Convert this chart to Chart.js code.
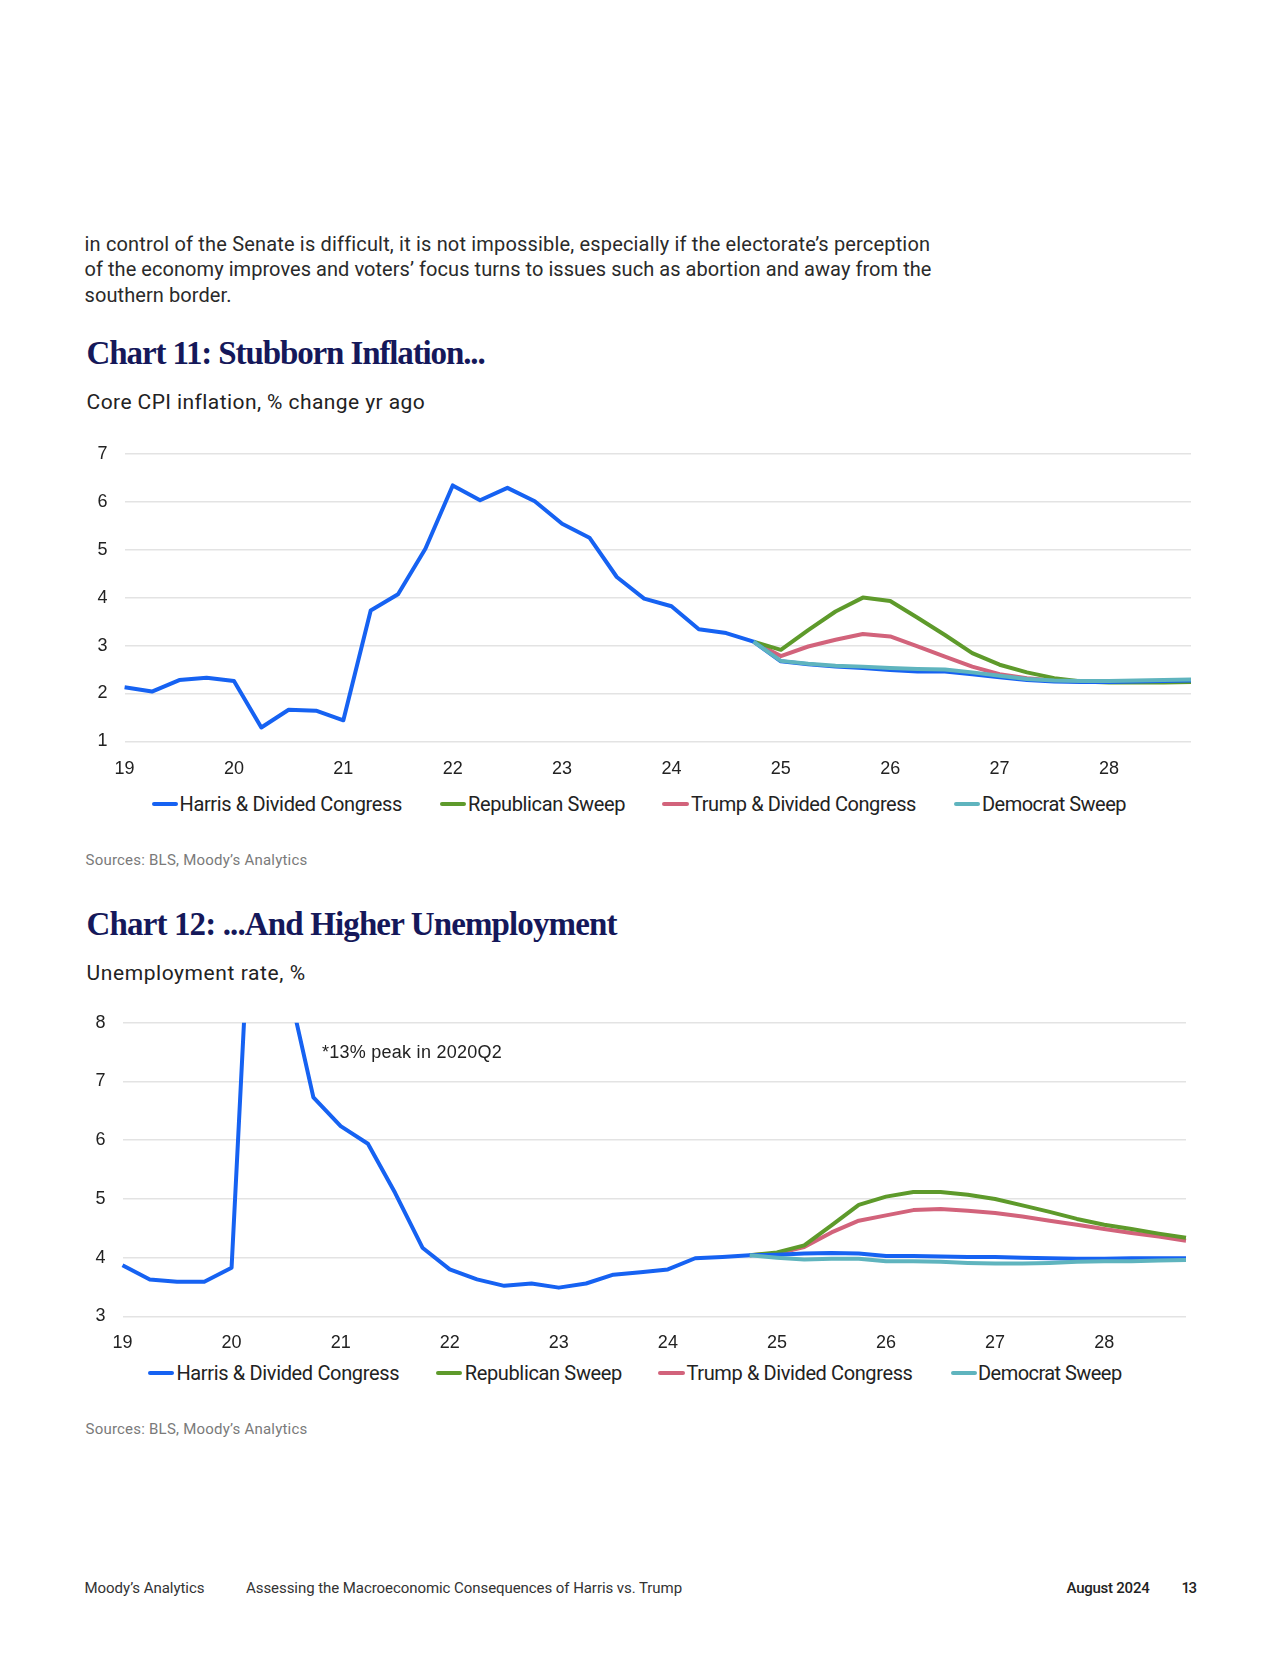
<!DOCTYPE html>
<html>
<head>
<meta charset="utf-8">
<script src="https://cdn.jsdelivr.net/npm/chart.js@4.4.1/dist/chart.umd.min.js"></script>
<style>
  html, body { margin: 0; padding: 0; background: #fff; }
  body { width: 1280px; height: 1656px; position: relative; overflow: hidden; }
  .t { position: absolute; white-space: nowrap; display: inline-block; }
  .para { font-family: Roboto, "Liberation Sans", sans-serif; font-size: 20px; color: #2a2a2a; line-height: 24px; }
  .title { font-family: "Liberation Serif", "DejaVu Serif", serif; font-weight: bold; font-size: 33px; color: #15185a; line-height: 40px; }
  .sub { font-family: Roboto, "Liberation Sans", sans-serif; font-size: 21px; color: #222; line-height: 25px; }
  .leg { font-family: Roboto, "Liberation Sans", sans-serif; font-size: 20px; color: #222; line-height: 24px; }
  .src { font-family: Roboto, "Liberation Sans", sans-serif; font-size: 15px; color: #7a7a7a; line-height: 18px; }
  .foot { font-family: Roboto, "Liberation Sans", sans-serif; font-size: 15px; color: #333; line-height: 18px; }
  .ann { font-family: "Liberation Sans", Arial, sans-serif; font-size: 18px; color: #222; line-height: 21px; }
  .sw { position: absolute; height: 4px; border-radius: 2px; }
  .cbox { position: absolute; }
  .cbox canvas { display: block; }
</style>
</head>
<body>
<script>
// ---------------- DATA ----------------
const quarters = [];
for (let y = 2019; y <= 2028; y++) for (let q = 1; q <= 4; q++) quarters.push(y + "Q" + q);
const yearTickLabels = ["19","20","21","22","23","24","25","26","27","28"];
const seriesNames = ["Harris & Divided Congress", "Republican Sweep", "Trump & Divided Congress", "Democrat Sweep"];

// Chart 11: Core CPI inflation, % change yr ago
const cpiHarris = [2.13,2.04,2.28,2.33,2.26,1.29,1.66,1.64,1.44,3.73,4.07,5.02,6.34,6.03,6.29,6.01,5.54,5.25,4.43,3.98,3.82,3.34,3.26,3.08,
                   2.67,2.61,2.56,2.53,2.49,2.46,2.46,2.40,2.34,2.28,2.25,2.24,2.24,2.25,2.26,2.27];
const cpiRepublican = [null,null,null,null,null,null,null,null,null,null,null,null,null,null,null,null,null,null,null,null,null,null,null,3.08,
                   2.91,3.32,3.71,4.00,3.93,3.58,3.22,2.84,2.60,2.44,2.32,2.25,2.23,2.23,2.23,2.24];
const cpiTrump = [null,null,null,null,null,null,null,null,null,null,null,null,null,null,null,null,null,null,null,null,null,null,null,3.08,
                   2.78,2.98,3.12,3.24,3.19,2.98,2.77,2.56,2.40,2.32,2.27,2.25,2.24,2.24,2.25,2.26];
const cpiDemocrat = [null,null,null,null,null,null,null,null,null,null,null,null,null,null,null,null,null,null,null,null,null,null,null,3.08,
                   2.68,2.62,2.58,2.56,2.53,2.51,2.50,2.44,2.37,2.30,2.27,2.26,2.26,2.27,2.28,2.29];
const cpiTicks = [1,2,3,4,5,6,7];

// Chart 12: Unemployment rate, %
const unempHarris = [3.87,3.63,3.59,3.59,3.83,13.0,8.8,6.73,6.24,5.94,5.10,4.17,3.80,3.63,3.52,3.56,3.49,3.56,3.71,3.75,3.80,3.99,4.01,4.04,
                     4.05,4.07,4.08,4.07,4.03,4.03,4.02,4.01,4.01,4.00,3.99,3.98,3.98,3.99,3.99,3.99];
const unempRepublican = [null,null,null,null,null,null,null,null,null,null,null,null,null,null,null,null,null,null,null,null,null,null,null,4.04,
                     4.09,4.21,4.55,4.90,5.04,5.12,5.12,5.07,5.00,4.89,4.78,4.66,4.56,4.49,4.41,4.34];
const unempTrump = [null,null,null,null,null,null,null,null,null,null,null,null,null,null,null,null,null,null,null,null,null,null,null,4.04,
                     4.07,4.18,4.43,4.63,4.72,4.81,4.83,4.80,4.76,4.70,4.63,4.56,4.49,4.42,4.36,4.29];
const unempDemocrat = [null,null,null,null,null,null,null,null,null,null,null,null,null,null,null,null,null,null,null,null,null,null,null,4.04,
                     4.00,3.97,3.98,3.98,3.94,3.94,3.93,3.91,3.90,3.90,3.91,3.93,3.94,3.94,3.95,3.96];
const unempTicks = [3,4,5,6,7,8];

const colors = ["#1662f2", "#5e9a2b", "#d2637b", "#5fb4be"];
</script>

<div class="t para" data-w="844" style="left:84.5px; top:232px;">in control of the Senate is difficult, it is not impossible, especially if the electorate’s perception</div>
<div class="t para" data-w="847" style="left:84.5px; top:257px;">of the economy improves and voters’ focus turns to issues such as abortion and away from the</div>
<div class="t para" data-w="147" style="left:84.5px; top:283px;">southern border.</div>

<div class="t title" data-w="398" style="left:86.6px; top:332.5px;">Chart 11: Stubborn Inflation...</div>
<div class="t sub" data-w="338" style="left:86.6px; top:390px;">Core CPI inflation, % change yr ago</div>

<div class="cbox" style="left:60px; top:426px; width:1148px; height:359px;"><canvas id="c1" width="1148" height="359"></canvas></div>

<div id="leg1"></div>
<div class="t src" data-w="222" style="left:85.5px; top:851px;">Sources: BLS, Moody’s Analytics</div>

<div class="t title" data-w="530" style="left:86.6px; top:903.5px;">Chart 12: ...And Higher Unemployment</div>
<div class="t sub" data-w="219" style="left:86.6px; top:961px;">Unemployment rate, %</div>

<div class="cbox" style="left:60px; top:995.3px; width:1142px; height:365px;"><canvas id="c2" width="1142" height="365"></canvas></div>
<div class="t ann" data-w="180" style="left:322px; top:1041.5px;">*13% peak in 2020Q2</div>

<div id="leg2"></div>
<div class="t src" data-w="222" style="left:85.5px; top:1420px;">Sources: BLS, Moody’s Analytics</div>

<div class="t foot" data-w="120" style="left:84.5px; top:1578.5px;">Moody’s Analytics</div>
<div class="t foot" data-w="436" style="left:246px; top:1578.5px;">Assessing the Macroeconomic Consequences of Harris vs. Trump</div>
<div class="t foot" data-w="83" style="left:1066.5px; top:1578.5px; font-weight:500; color:#222;">August 2024</div>
<div class="t foot" data-w="14" style="left:1181.5px; top:1578.5px; font-weight:500; color:#222;">13</div>

<script>
function buildLegend(id, items, cy) {
  const host = document.getElementById(id);
  items.forEach((it, i) => {
    const sw = document.createElement('div');
    sw.className = 'sw';
    sw.style.left = it.lx + 'px';
    sw.style.width = (it.lw) + 'px';
    sw.style.top = (cy - 2) + 'px';
    sw.style.background = colors[i];
    host.appendChild(sw);
    const tx = document.createElement('div');
    tx.className = 't leg';
    tx.textContent = seriesNames[i];
    tx.dataset.w = it.tw;
    tx.style.left = it.tx + 'px';
    tx.style.top = (cy - 12) + 'px';
    host.appendChild(tx);
  });
}
buildLegend('leg1', [
  {lx:152, lw:26, tx:179.5, tw:222.5},
  {lx:440, lw:26, tx:468, tw:157},
  {lx:662, lw:27, tx:691, tw:225},
  {lx:954, lw:26, tx:982, tw:144}
], 804);
buildLegend('leg2', [
  {lx:148, lw:26, tx:176.4, tw:222.8},
  {lx:436, lw:26, tx:464.7, tw:157.3},
  {lx:658, lw:27, tx:686.5, tw:226},
  {lx:950.5, lw:26, tx:978, tw:143.6}
], 1373);

// fit text widths to the reference
document.querySelectorAll('[data-w]').forEach(el => {
  const target = parseFloat(el.dataset.w);
  const w = el.getBoundingClientRect().width;
  const n = el.textContent.length;
  if (n > 1) el.style.letterSpacing = ((target - w) / n) + 'px';
});

function makeChart(id, series, yMin, yMax, yTicks, yAxisW, xPad) {
  const orders = [1, 2, 3, 0];
  return new Chart(document.getElementById(id), {
    type: 'line',
    data: {
      labels: quarters,
      datasets: series.map((s, i) => ({
        label: seriesNames[i],
        data: s,
        borderColor: colors[i],
        backgroundColor: colors[i],
        borderWidth: 4,
        pointRadius: 0,
        pointHoverRadius: 0,
        tension: 0,
        fill: false,
        borderJoinStyle: 'round',
        borderCapStyle: 'butt',
        order: orders[i]
      }))
    },
    options: {
      responsive: false,
      devicePixelRatio: 1,
      animation: false,
      events: [],
      layout: { padding: 0 },
      plugins: { legend: { display: false }, tooltip: { enabled: false } },
      scales: {
        x: {
          type: 'category',
          offset: false,
          grid: { display: false, drawTicks: false },
          border: { display: false },
          ticks: {
            autoSkip: false,
            maxRotation: 0,
            minRotation: 0,
            padding: xPad,
            color: '#222',
            font: { family: '"Liberation Sans", Arial, sans-serif', size: 18 },
            callback: (v, i) => (i % 4 === 0 ? yearTickLabels[i / 4] : '')
          },
          afterFit: (s) => { s.height = 43.6; }
        },
        y: {
          min: yMin,
          max: yMax,
          afterBuildTicks: (s) => { s.ticks = yTicks.map(v => ({ value: v })); },
          grid: { color: '#e3e3e3', lineWidth: 1.5, drawTicks: false },
          border: { display: false },
          ticks: {
            padding: 17,
            color: '#222',
            font: { family: '"Liberation Sans", Arial, sans-serif', size: 18 }
          },
          afterFit: (s) => { s.width = yAxisW; }
        }
      }
    }
  });
}

makeChart('c1', [cpiHarris, cpiRepublican, cpiTrump, cpiDemocrat], 1, 7, cpiTicks, 64.6, 17);
makeChart('c2', [unempHarris, unempRepublican, unempTrump, unempDemocrat], 3, 8, unempTicks, 62.5, 16);
</script>
</body>
</html>
